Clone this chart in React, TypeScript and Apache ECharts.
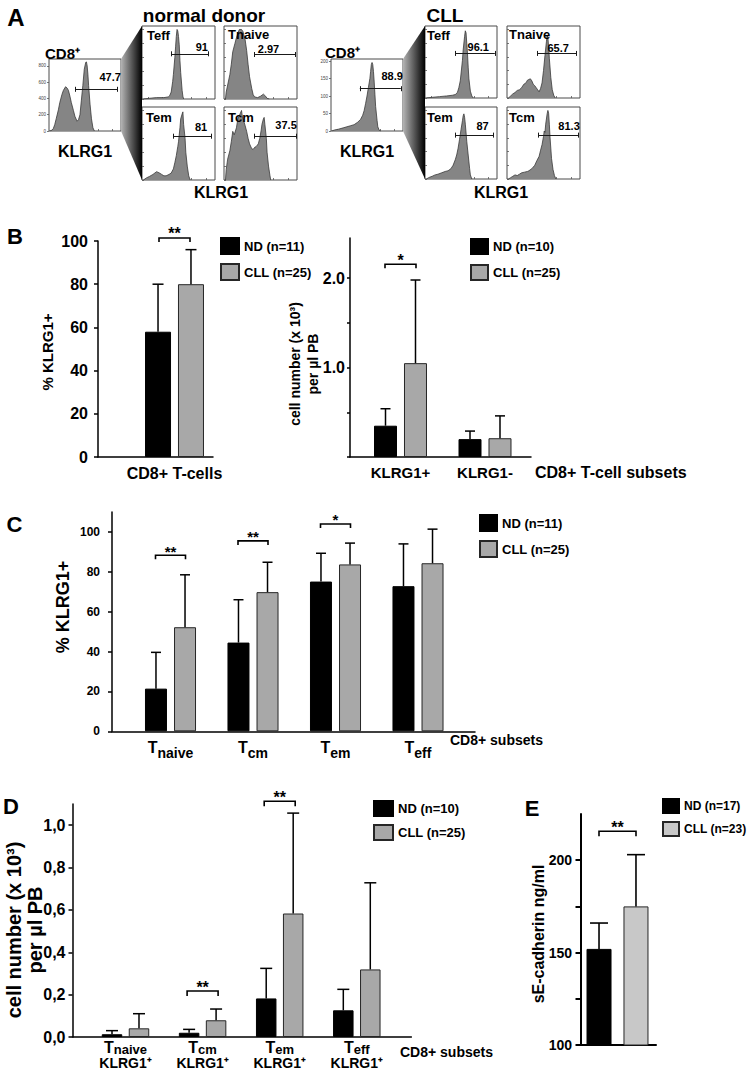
import React, { useEffect, useRef } from "react";
import * as echarts from "echarts";

const FONT = '"Liberation Sans", Arial, Helvetica, sans-serif';

// ---------------- Panel A: flow-cytometry histograms (x = % of KLRG1 axis, y = events) -------------
const ndCD8Hist = [[1,0],[4,10],[6,30],[8,80],[10,150],[13,260],[15,350],[18,450],[20,500],[23,545],[25,530],[27,500],[29,430],[31,350],[34,250],[36,180],[39,120],[41,140],[43,200],[45,380],[47,560],[49,760],[51,845],[52,850],[53,800],[54,700],[55,560],[57,330],[59,150],[61,40],[63,0]];
const ndTeffHist = [[2,0],[10,1],[20,2],[30,2],[36,3],[38,5],[40,10],[42,25],[43,35],[45,60],[46,75],[47,90],[48,100],[49,98],[50,90],[51,78],[52,55],[53,38],[55,12],[56,4],[57,0]];
const ndTnaiveHist = [[2,0],[3,10],[5,20],[8,35],[10,50],[12,68],[15,80],[17,88],[19,95],[21,100],[24,100],[26,97],[29,85],[31,70],[33,50],[35,32],[38,15],[40,6],[42,3],[46,2],[50,4],[54,7],[57,4],[59,1],[62,0]];
const ndTemHist = [[2,0],[6,3],[10,5],[15,8],[20,12],[24,10],[27,8],[30,6],[33,6],[37,8],[40,10],[43,16],[45,25],[47,35],[49,48],[50,55],[52,75],[53,88],[55,95],[56,98],[57,80],[59,60],[60,40],[62,20],[64,6],[66,0]];
const ndTcmHist = [[2,0],[3,15],[5,30],[8,42],[10,55],[12,70],[14,65],[17,75],[19,88],[22,95],[24,100],[25,92],[27,85],[29,78],[31,70],[33,60],[35,52],[38,45],[40,44],[42,47],[44,48],[47,52],[49,60],[51,72],[52,80],[54,88],[55,90],[56,80],[58,60],[59,40],[61,20],[63,6],[64,0]];
const cllCD8Hist = [[1,0],[5,3],[10,5],[17,9],[22,12],[27,15],[32,18],[37,25],[41,33],[44,45],[46,58],[48,78],[50,100],[52,125],[54,150],[55,170],[56,190],[57,196],[58,190],[59,170],[60,140],[61,105],[62,70],[64,30],[65,12],[67,2],[69,0]];
const cllTeffHist = [[2,0],[10,1],[20,2],[30,3],[38,4],[42,5],[45,8],[47,15],[49,25],[50,35],[52,55],[53,70],[55,90],[56,98],[57,95],[58,80],[59,65],[60,45],[61,28],[63,10],[65,3],[67,0]];
const cllTnaiveHist = [[2,0],[5,3],[8,6],[11,8],[14,11],[17,12],[20,15],[23,20],[26,22],[28,26],[30,27],[32,28],[34,25],[36,20],[38,18],[40,15],[42,12],[44,9],[46,14],[48,22],[50,40],[52,62],[54,82],[55,92],[56,88],[57,75],[58,58],[60,30],[62,12],[64,4],[66,0]];
const cllTemHist = [[2,0],[5,2],[10,4],[14,6],[18,7],[23,9],[28,11],[32,12],[36,15],[39,20],[42,28],[44,35],[46,45],[48,58],[50,72],[52,85],[53,92],[54,95],[55,90],[56,80],[58,55],[60,35],[62,15],[63,6],[65,0]];
const cllTcmHist = [[2,0],[5,2],[8,4],[11,6],[14,5],[17,7],[20,9],[24,10],[28,11],[30,12],[34,15],[38,20],[41,27],[44,33],[46,42],[48,50],[50,62],[51,70],[52,68],[53,80],[55,95],[56,100],[57,96],[58,80],[59,60],[60,45],[61,30],[63,14],[65,5],[67,0]];

// gates: [from %, to %, level]; gate label: text and its [x %, level]
const ndCD8Gate = [37, 95, 513]; const ndCD8GateText = "47.7"; const ndCD8GateAt = [85, 665];
const ndTeffGate = [40, 91, 65]; const ndTeffGateText = "91"; const ndTeffGateAt = [82, 75];
const ndTnaiveGate = [42, 98, 64]; const ndTnaiveGateText = "2.97"; const ndTnaiveGateAt = [61, 72];
const ndTemGate = [43, 95, 63]; const ndTemGateText = "81"; const ndTemGateAt = [81, 76];
const ndTcmGate = [42, 99, 63]; const ndTcmGateText = "37.5"; const ndTcmGateAt = [85, 79];
const cllCD8Gate = [40, 97, 121]; const cllCD8GateText = "88.9"; const cllCD8GateAt = [85, 157];
const cllTeffGate = [42, 97, 65]; const cllTeffGateText = "96.1"; const cllTeffGateAt = [74, 75];
const cllTnaiveGate = [42, 95, 65]; const cllTnaiveGateText = "65.7"; const cllTnaiveGateAt = [70, 73];
const cllTemGate = [42, 95, 64]; const cllTemGateText = "87"; const cllTemGateAt = [80, 77];
const cllTcmGate = [43, 98, 64]; const cllTcmGateText = "81.3"; const cllTcmGateAt = [85, 77];

const ndCD8Ticks = [0, 200, 400, 600, 800];
const cllCD8Ticks = [0, 50, 100, 150, 200];
const subsetTicks = [0, 20, 40, 60, 80, 100];

// ---------------- Panel B (left) ----------------
const bLeftCats = ["CD8+ T-cells"];
const bLeftND = [58];
const bLeftNDErr = [80];
const bLeftCLL = [80];
const bLeftCLLErr = [96];
const bLeftSig = [[0, 101.4]];
const bLeftSigText = ["**"];
const bLeftLegend = ["ND (n=11)", "CLL (n=25)"];
const bLeftTicks = [0, 20, 40, 60, 80, 100];

// ---------------- Panel B (right) ----------------
const bRightCats = ["KLRG1+", "KLRG1-"];
const bRightND = [0.35, 0.2];
const bRightNDErr = [0.54, 0.29];
const bRightCLL = [1.05, 0.21];
const bRightCLLErr = [1.98, 0.46];
const bRightSig = [[0, 2.156]];
const bRightSigText = ["*"];
const bRightLegend = ["ND (n=10)", "CLL (n=25)"];
const bRightTicks = [0, 0.5, 1, 1.5, 2];
const bRightTickLabels = [1, 2];

// ---------------- Panel C ----------------
const cSubs = ["naive", "cm", "em", "eff"];
const cND = [21.4, 44.5, 75.1, 72.8];
const cNDErr = [39.6, 66, 89.3, 94];
const cCLL = [52.2, 69.8, 83.7, 84.3];
const cCLLErr = [78.5, 84.8, 94.4, 101.4];
const cSig = [[0, 88.3], [1, 95.5], [2, 104]];
const cSigText = ["**", "**", "*"];
const cLegend = ["ND (n=11)", "CLL (n=25)"];
const cTicks = [0, 20, 40, 60, 80, 100];

// ---------------- Panel D ----------------
const dSubs = ["naive", "cm", "em", "eff"];
const dND = [0.013, 0.02, 0.182, 0.126];
const dNDErr = [0.03, 0.036, 0.324, 0.225];
const dCLL = [0.041, 0.079, 0.583, 0.319];
const dCLLErr = [0.11, 0.132, 1.057, 0.728];
const dSig = [[1, 0.217], [2, 1.113]];
const dSigText = ["**", "**"];
const dLegend = ["ND (n=10)", "CLL (n=25)"];
const dTicks = [0, 0.2, 0.4, 0.6, 0.8, 1.0];

// ---------------- Panel E ----------------
const eND = [152];
const eNDErr = [166];
const eCLL = [175];
const eCLLErr = [203];
const eSig = [[0, 215.7]];
const eSigText = ["**"];
const eLegend = ["ND (n=17)", "CLL (n=23)"];
const eTicks = [100, 125, 150, 175, 200];
const eTickLabels = [100, 150, 200];

// ====================================================================================
function histPanel(h: any, gi: number) {
  const capD = (2.5 * h.ymax) / h.h;
  const [g1, g2, gy] = h.gate;
  return {
    grid: { left: h.left, top: h.top, width: h.w, height: h.h, show: true, borderColor: "#4a4a4a", borderWidth: 1, backgroundColor: "#fff" },
    xAxis: {
      type: "value", gridIndex: gi, min: 0, max: 100,
      axisLine: { show: false },
      axisTick: { show: true, inside: true, length: 2, customValues: [8, 28, 48, 68, 88], lineStyle: { color: "#555", width: 0.8 } },
      axisLabel: { show: false }, splitLine: { show: false },
    },
    yAxis: {
      type: "value", gridIndex: gi, min: 0, max: h.ymax,
      axisLine: { show: false, onZero: false },
      axisTick: { show: true, inside: !h.labels, length: 2, customValues: h.ticks, lineStyle: { color: "#555", width: 0.8 } },
      axisLabel: { show: !!h.labels, customValues: h.ticks, fontSize: 4.5, margin: 3, color: "#444" },
      splitLine: { show: false },
    },
    series: {
      type: "line", name: "hist" + gi, xAxisIndex: gi, yAxisIndex: gi, data: h.data,
      symbol: "none", showSymbol: false, silent: true, z: 2,
      lineStyle: { color: "#3a3a3a", width: 0.8 },
      areaStyle: { color: "#858585", opacity: 1 },
      markLine: {
        silent: true, symbol: ["none", "none"], label: { show: false },
        lineStyle: { color: "#1a1a1a", width: 1, type: "solid" },
        data: [
          [{ coord: [g1, gy] }, { coord: [g2, gy] }],
          [{ coord: [g1, gy - capD] }, { coord: [g1, gy + capD] }],
          [{ coord: [g2, gy - capD] }, { coord: [g2, gy + capD] }],
        ],
      },
      markPoint: {
        silent: true, symbol: "rect", symbolSize: 1, itemStyle: { color: "rgba(0,0,0,0)" },
        label: { show: true, position: "inside", formatter: h.gateText, fontSize: 11, fontWeight: "bold", fontFamily: FONT, color: "#000" },
        data: [{ coord: h.labelAt }],
      },
    },
  };
}

function errRender(cap: number, lw: number) {
  return (params: any, api: any) => {
    const x = api.value(0);
    const p0 = api.coord([x, api.value(1)]);
    const p1 = api.coord([x, api.value(2)]);
    return {
      type: "group",
      children: [
        { type: "line", shape: { x1: p0[0], y1: p0[1], x2: p1[0], y2: p1[1] }, style: { stroke: "#000", lineWidth: lw } },
        { type: "line", shape: { x1: p1[0] - cap / 2, y1: p1[1], x2: p1[0] + cap / 2, y2: p1[1] }, style: { stroke: "#000", lineWidth: lw } },
      ],
    };
  };
}

function sigRender(texts: string[], half: number, tick: number, size: number) {
  return (params: any, api: any) => {
    const p = api.coord([api.value(0), api.value(1)]);
    return {
      type: "group",
      children: [
        { type: "polyline", shape: { points: [[p[0] - half, p[1] + tick], [p[0] - half, p[1]], [p[0] + half, p[1]], [p[0] + half, p[1] + tick]] }, style: { stroke: "#000", lineWidth: 1.6, fill: "none" } },
        { type: "text", x: p[0], y: p[1] - 4, style: { text: texts[params.dataIndex], fontSize: size, fontWeight: "bold", fontFamily: FONT, fill: "#000", align: "center", verticalAlign: "middle" } },
      ],
    };
  };
}

function barPanel(p: any, gi: number) {
  const xMin = (p.left - p.c0) / p.step;
  const xMax = (p.right - p.c0) / p.step;
  const idx = p.nd.map((_: any, i: number) => i);
  const lbl = { fontFamily: FONT, fontWeight: "bold", color: "#000" };
  return {
    grid: { left: p.left, top: p.top, width: p.right - p.left, height: p.bottom - p.top },
    xAxis: {
      type: "value", gridIndex: gi, min: xMin, max: xMax,
      axisLine: { show: true, onZero: false, lineStyle: { color: "#000", width: p.axisW } },
      axisTick: { show: false }, splitLine: { show: false },
      axisLabel: p.xLabel
        ? { show: true, customValues: idx, formatter: (v: number) => p.xLabel(Math.round(v)), margin: p.xMargin, fontSize: p.xFont, ...lbl, rich: p.rich || {} }
        : { show: false },
    },
    yAxis: {
      type: "value", gridIndex: gi, min: p.yMin, max: p.yMax,
      axisLine: { show: true, onZero: false, lineStyle: { color: "#000", width: p.axisW } },
      axisTick: { show: true, customValues: p.yTicks, length: p.tickLen, lineStyle: { color: "#000", width: p.axisW } },
      axisLabel: { show: true, customValues: p.yLabels, formatter: p.yFmt, margin: p.yMargin, fontSize: p.yFont, ...lbl },
      splitLine: { show: false },
    },
    legend: {
      show: true, orient: "vertical", left: p.lg[0], top: p.lg[1], itemWidth: p.lg[2], itemHeight: p.lg[3], itemGap: p.lg[4],
      padding: 0, icon: "rect", selectedMode: false, data: p.legend,
      textStyle: { fontFamily: FONT, fontWeight: "bold", fontSize: p.lgFont, color: "#000" },
    },
    series: [
      { type: "bar", name: p.legend[0], xAxisIndex: gi, yAxisIndex: gi, barWidth: p.barW, barGap: "-100%", z: 2,
        data: p.nd.map((v: number, i: number) => [i - p.off, v]), itemStyle: { color: "#000", borderColor: "#000", borderWidth: 1 } },
      { type: "bar", name: p.legend[1], xAxisIndex: gi, yAxisIndex: gi, barWidth: p.barW, barGap: "-100%", z: 2,
        data: p.cll.map((v: number, i: number) => [i + p.off, v]), itemStyle: { color: p.cllColor, borderColor: "#262626", borderWidth: 1 } },
      { type: "custom", name: "err" + gi, xAxisIndex: gi, yAxisIndex: gi, z: 4, silent: true, clip: false,
        encode: { x: 0, y: 2 },
        data: [
          ...p.nd.map((v: number, i: number) => [i - p.off, v, p.ndErr[i]]),
          ...p.cll.map((v: number, i: number) => [i + p.off, v, p.cllErr[i]]),
        ],
        renderItem: errRender(p.cap, p.errW) },
      { type: "custom", name: "sig" + gi, xAxisIndex: gi, yAxisIndex: gi, z: 4, silent: true, clip: false,
        encode: { x: 0, y: 1 }, data: p.sig, renderItem: sigRender(p.sigText, p.half, p.sigTick, p.starSize) },
    ],
  };
}

function T(x: number, y: number, text: string, size: number, extra: any = {}) {
  return {
    type: "text", x, y, rotation: extra.rotation || 0, z: 50, silent: true,
    style: { text, fontSize: size, fontWeight: "bold", fontFamily: FONT, fill: "#000", align: extra.align || "center", verticalAlign: "middle", lineHeight: extra.lineHeight },
  };
}

function buildOption() {
  const hists = [
    { left: 49, top: 59, w: 72, h: 72, ymax: 886, data: ndCD8Hist, gate: ndCD8Gate, gateText: ndCD8GateText, labelAt: ndCD8GateAt, ticks: ndCD8Ticks, labels: true },
    { left: 142, top: 26, w: 73, h: 73, ymax: 105, data: ndTeffHist, gate: ndTeffGate, gateText: ndTeffGateText, labelAt: ndTeffGateAt, ticks: subsetTicks },
    { left: 224, top: 26, w: 73, h: 73, ymax: 105, data: ndTnaiveHist, gate: ndTnaiveGate, gateText: ndTnaiveGateText, labelAt: ndTnaiveGateAt, ticks: subsetTicks },
    { left: 142, top: 107, w: 73, h: 73, ymax: 105, data: ndTemHist, gate: ndTemGate, gateText: ndTemGateText, labelAt: ndTemGateAt, ticks: subsetTicks },
    { left: 224, top: 107, w: 73, h: 73, ymax: 105, data: ndTcmHist, gate: ndTcmGate, gateText: ndTcmGateText, labelAt: ndTcmGateAt, ticks: subsetTicks },
    { left: 331, top: 59, w: 72, h: 72, ymax: 206, data: cllCD8Hist, gate: cllCD8Gate, gateText: cllCD8GateText, labelAt: cllCD8GateAt, ticks: cllCD8Ticks, labels: true },
    { left: 425, top: 26, w: 72, h: 72, ymax: 105, data: cllTeffHist, gate: cllTeffGate, gateText: cllTeffGateText, labelAt: cllTeffGateAt, ticks: subsetTicks },
    { left: 507, top: 26, w: 73, h: 72, ymax: 105, data: cllTnaiveHist, gate: cllTnaiveGate, gateText: cllTnaiveGateText, labelAt: cllTnaiveGateAt, ticks: subsetTicks },
    { left: 425, top: 107, w: 72, h: 72, ymax: 105, data: cllTemHist, gate: cllTemGate, gateText: cllTemGateText, labelAt: cllTemGateAt, ticks: subsetTicks },
    { left: 507, top: 107, w: 73, h: 72, ymax: 105, data: cllTcmHist, gate: cllTcmGate, gateText: cllTcmGateText, labelAt: cllTcmGateAt, ticks: subsetTicks },
  ];

  const pct = (v: number) => String(v);
  const comma = (v: number) => v.toFixed(1).replace(".", ",");
  const dot = (v: number) => v.toFixed(1);
  const richC = {
    t: { fontSize: 16, fontWeight: "bold", fontFamily: FONT, color: "#000", lineHeight: 18, verticalAlign: "top" },
    s: { fontSize: 14, fontWeight: "bold", fontFamily: FONT, color: "#000", lineHeight: 14, verticalAlign: "top", padding: [7, 0, 0, 0] },
  };
  const richD = {
    t: { fontSize: 16, fontWeight: "bold", fontFamily: FONT, color: "#000", lineHeight: 16, verticalAlign: "top" },
    s: { fontSize: 13, fontWeight: "bold", fontFamily: FONT, color: "#000", lineHeight: 13, verticalAlign: "top", padding: [4, 0, 0, 0] },
    k: { fontSize: 14, fontWeight: "bold", fontFamily: FONT, color: "#000", lineHeight: 15, padding: [1, 0, 0, 0] },
  };

  const bars = [
    { nd: bLeftND, ndErr: bLeftNDErr, cll: bLeftCLL, cllErr: bLeftCLLErr, sig: bLeftSig, sigText: bLeftSigText, legend: bLeftLegend,
      yMin: 0, yMax: 100, yTicks: bLeftTicks, yLabels: bLeftTicks, yFmt: pct, xLabel: (i: number) => bLeftCats[i],
      left: 98, right: 213, top: 241, bottom: 457, c0: 174.5, step: 80, off: 0.206, barW: 26, cap: 11, half: 15.5, sigTick: 4, starSize: 16,
      yFont: 16, yMargin: 10, tickLen: 4, xFont: 16, xMargin: 8, axisW: 1.5, errW: 1.5, cllColor: "#a8a8a8", lg: [220, 237, 18, 16, 8], lgFont: 13 },
    { nd: bRightND, ndErr: bRightNDErr, cll: bRightCLL, cllErr: bRightCLLErr, sig: bRightSig, sigText: bRightSigText, legend: bRightLegend,
      yMin: 0, yMax: 2.45, yTicks: bRightTicks, yLabels: bRightTickLabels, yFmt: dot, xLabel: (i: number) => bRightCats[i],
      left: 350, right: 531, top: 238, bottom: 457, c0: 400.5, step: 84.5, off: 0.1775, barW: 23, cap: 10, half: 15.5, sigTick: 4, starSize: 16,
      yFont: 16, yMargin: 5, tickLen: 3, xFont: 15, xMargin: 8, axisW: 1.5, errW: 1.5, cllColor: "#a8a8a8", lg: [470, 238, 17, 15, 9], lgFont: 13 },
    { nd: cND, ndErr: cNDErr, cll: cCLL, cllErr: cCLLErr, sig: cSig, sigText: cSigText, legend: cLegend,
      yMin: 0, yMax: 110, yTicks: cTicks, yLabels: cTicks, yFmt: pct, xLabel: (i: number) => `{t|T}{s|${cSubs[i]}}`, rich: richC,
      left: 112, right: 475, top: 512, bottom: 731.3, c0: 170.5, step: 82.5, off: 0.176, barW: 22, cap: 10, half: 15, sigTick: 4, starSize: 15,
      yFont: 12, yMargin: 12, tickLen: 4, xFont: 16, xMargin: 8, axisW: 1.5, errW: 1.5, cllColor: "#a8a8a8", lg: [479, 514, 17, 16, 8], lgFont: 13 },
    { nd: dND, ndErr: dNDErr, cll: dCLL, cllErr: dCLLErr, sig: dSig, sigText: dSigText, legend: dLegend,
      yMin: 0, yMax: 1.1, yTicks: dTicks, yLabels: dTicks, yFmt: comma, xLabel: (i: number) => `{t|T}{s|${dSubs[i]}}\n{k|KLRG1⁺}`, rich: richD,
      left: 72.5, right: 411.4, top: 804, bottom: 1037, c0: 125.5, step: 77.1, off: 0.175, barW: 20.5, cap: 12, half: 15.5, sigTick: 5, starSize: 16,
      yFont: 16, yMargin: 7, tickLen: 4, xFont: 16, xMargin: 2, axisW: 1.5, errW: 1.5, cllColor: "#a8a8a8", lg: [373, 800, 19, 15, 7], lgFont: 13 },
    { nd: eND, ndErr: eNDErr, cll: eCLL, cllErr: eCLLErr, sig: eSig, sigText: eSigText, legend: eLegend,
      yMin: 100, yMax: 225, yTicks: eTicks, yLabels: eTickLabels, yFmt: pct, xLabel: null,
      left: 581, right: 656, top: 814, bottom: 1045, c0: 617.5, step: 80, off: 0.231, barW: 25, cap: 18, half: 18.5, sigTick: 5, starSize: 16,
      yFont: 14, yMargin: 9, tickLen: 5.5, xFont: 14, xMargin: 8, axisW: 2, errW: 1.6, cllColor: "#c8c8c8", lg: [662, 798, 16, 14, 7], lgFont: 12 },
  ];

  const grid: any[] = [], xAxis: any[] = [], yAxis: any[] = [], series: any[] = [], legend: any[] = [];
  let gi = 0;
  hists.forEach((h) => {
    const r = histPanel(h, gi++);
    grid.push(r.grid); xAxis.push(r.xAxis); yAxis.push(r.yAxis); series.push(r.series);
  });
  bars.forEach((b) => {
    const r = barPanel(b, gi++);
    grid.push(r.grid); xAxis.push(r.xAxis); yAxis.push(r.yAxis); series.push(...r.series); legend.push(r.legend);
  });

  const grad = () => new echarts.graphic.LinearGradient(0, 0, 1, 0, [{ offset: 0, color: "#b4b4b4" }, { offset: 1, color: "#000" }]);
  const elements: any[] = [
    { type: "polygon", z: 1, silent: true, shape: { points: [[121, 59], [142, 26], [142, 180], [121, 131]] }, style: { fill: grad() } },
    { type: "polygon", z: 1, silent: true, shape: { points: [[403, 59], [425, 26], [425, 179], [403, 131]] }, style: { fill: grad() } },
    T(16, 17, "A", 24), T(15, 236.5, "B", 22), T(14.5, 524, "C", 22), T(11, 806, "D", 22), T(532, 808, "E", 22),
    T(204, 15, "normal donor", 19), T(445, 15, "CLL", 19),
    T(45, 53, "CD8⁺", 15, { align: "left" }), T(325, 52, "CD8⁺", 15, { align: "left" }),
    T(85, 151, "KLRG1", 16), T(221, 192, "KLRG1", 16), T(367, 151, "KLRG1", 16), T(501, 192, "KLRG1", 16),
    T(147, 35, "Teff", 13, { align: "left" }), T(228, 34, "Tnaive", 13, { align: "left" }),
    T(146, 117, "Tem", 13, { align: "left" }), T(228, 117, "Tcm", 13, { align: "left" }),
    T(427, 35, "Teff", 13, { align: "left" }), T(509, 34, "Tnaive", 13, { align: "left" }),
    T(427, 117, "Tem", 13, { align: "left" }), T(509, 117, "Tcm", 13, { align: "left" }),
    T(47, 352, "% KLRG1+", 15, { rotation: Math.PI / 2 }),
    T(304, 364, "cell number (x 10³)\nper µl PB", 14, { rotation: Math.PI / 2, lineHeight: 18 }),
    T(535, 472, "CD8+ T-cell subsets", 16, { align: "left" }),
    T(63, 607, "% KLRG1+", 18, { rotation: Math.PI / 2 }),
    T(450, 740, "CD8+ subsets", 14, { align: "left" }),
    T(24, 930, "cell number (x 10³)\nper µl PB", 20, { rotation: Math.PI / 2, lineHeight: 21 }),
    T(400, 1052, "CD8+ subsets", 14, { align: "left" }),
    T(538, 934, "sE-cadherin ng/ml", 16, { rotation: Math.PI / 2 }),
  ];

  return {
    animation: false,
    backgroundColor: "#ffffff",
    textStyle: { fontFamily: FONT },
    grid, xAxis, yAxis, series, legend,
    graphic: { elements },
  };
}

export default function App() {
  const ref = useRef<HTMLDivElement>(null);
  useEffect(() => {
    const chart = echarts.init(ref.current as HTMLDivElement, null, { renderer: "svg", width: 750, height: 1073 });
    chart.setOption(buildOption() as any);
    return () => chart.dispose();
  }, []);
  return <div ref={ref} style={{ position: "absolute", left: 0, top: 0, width: 750, height: 1073, background: "#fff" }} />;
}
